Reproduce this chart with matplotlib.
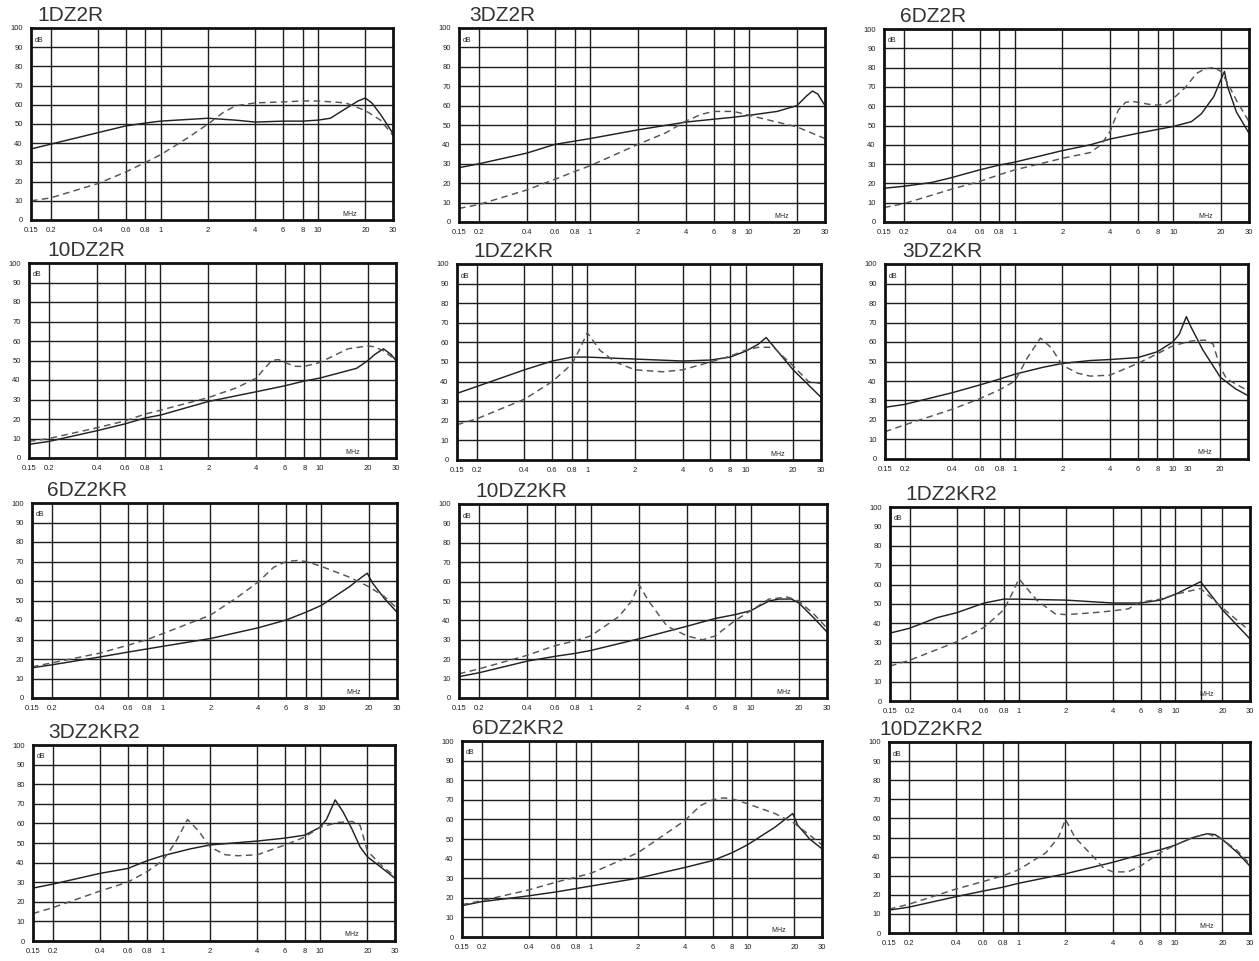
#!/usr/bin/env python3
"""Insertion-loss curves of 12 filter types (dB vs MHz, log x), 4x3 grid."""
import matplotlib

matplotlib.use("Agg")
import matplotlib.pyplot as plt

plt.rcParams["font.family"] = ["Liberation Sans", "DejaVu Sans"]

TITLES = ["1DZ2R", "3DZ2R", "6DZ2R", "10DZ2R", "1DZ2KR", "3DZ2KR",
          "6DZ2KR", "10DZ2KR", "1DZ2KR2", "3DZ2KR2", "6DZ2KR2", "10DZ2KR2"]

Y_TICKS = [0, 10, 20, 30, 40, 50, 60, 70, 80, 90, 100]
X_TICKS = [0.15, 0.2, 0.4, 0.6, 0.8, 1, 2, 4, 6, 8, 10, 20, 30]
X_LABELS = ["0.15", "0.2", "0.4", "0.6", "0.8", "1", "2", "4", "6", "8", "10", "20", "30"]
X_GRID = [0.2, 0.4, 0.6, 0.8, 1, 2, 4, 6, 8, 10, 20]
# 3DZ2KR has a misprinted axis in the original ("10 30 20", nothing at the end)
X_TICKS_3KR = [0.15, 0.2, 0.4, 0.6, 0.8, 1, 2, 4, 6, 8, 10, 12.5, 20]
X_LABELS_3KR = ["0.15", "0.2", "0.4", "0.6", "0.8", "1", "2", "4", "6", "8", "10", "30", "20"]
EXTRA_GRID_1KR2 = [14.5]

# solid / dashed curve per panel; f in MHz, level in dB
p1_sf = [0.15, 0.2, 0.4, 0.6, 0.8, 1, 2, 3, 4, 6, 8, 10, 12, 15, 18, 20, 22, 25, 30]
p1_sy = [37, 39.5, 45.5, 49, 50.5, 51.5, 53, 52, 51, 51.5, 51.5, 52, 53, 58, 62, 63.5, 61, 55, 45]
p1_df = [0.15, 0.2, 0.4, 0.6, 0.8, 1, 1.5, 2, 2.5, 3, 4, 6, 8, 10, 15, 20, 25, 30]
p1_dy = [10, 11.5, 19, 25, 30, 34, 43, 50, 56, 59.5, 61, 61.5, 62, 62, 61, 57, 52, 44]

p2_sf = [0.15, 0.2, 0.4, 0.6, 1, 2, 4, 6, 8, 10, 15, 20, 23, 25, 27, 30]
p2_sy = [28, 30, 35.5, 40, 43, 47.5, 51.5, 53, 54, 55, 57, 60, 65, 67.5, 66, 60]
p2_df = [0.15, 0.2, 0.4, 0.6, 0.8, 1, 2, 3, 4, 5, 6, 8, 10, 15, 20, 30]
p2_dy = [7, 9, 16.5, 22, 26, 29, 40, 46, 52, 55.5, 57, 57, 55, 51.5, 49, 43]

p3_sf = [0.15, 0.2, 0.3, 0.4, 0.6, 0.8, 1, 2, 3, 4, 6, 8, 10, 13, 15, 18, 20, 21, 22, 25, 30]
p3_sy = [17.5, 18.5, 20.5, 23, 27, 29.5, 31, 37, 40, 43, 46, 48, 49.5, 52, 56, 65, 74, 78, 70, 57, 46]
p3_df = [0.15, 0.2, 0.4, 0.6, 0.8, 1, 2, 3, 3.5, 4, 4.5, 5, 5.5, 6, 7, 8, 9, 10, 12, 14, 16, 18, 20, 22, 25, 30]
p3_dy = [7.5, 9.5, 17, 21, 24.5, 27, 33, 36, 40, 47, 58, 62, 62.5, 62, 61, 60.5, 61.5, 64, 70, 77, 79.5, 80, 78, 72, 63, 52]

p4_sf = [0.15, 0.2, 0.4, 0.6, 0.8, 1, 2, 4, 6, 8, 10, 17, 20, 22, 25, 28, 30]
p4_sy = [7, 8.5, 14, 17.5, 20.5, 22, 29, 34, 37, 39.5, 41, 46, 50, 53, 56, 53, 50]
p4_df = [0.15, 0.2, 0.4, 0.6, 0.8, 1, 2, 3, 4, 4.5, 5, 5.5, 6, 7, 8, 10, 15, 20, 22, 25, 28, 30]
p4_dy = [8.5, 10, 15.5, 19, 22.5, 24.5, 31, 36, 41, 46, 50, 50.5, 49, 47, 47, 49, 56, 57.5, 57, 55, 52, 51]

p5_sf = [0.15, 0.2, 0.4, 0.6, 0.8, 1, 2, 4, 6, 8, 10, 12, 13.5, 20, 30]
p5_sy = [34, 37.5, 46, 50.5, 52.5, 52.5, 51.5, 50.5, 51, 52.5, 55.5, 59, 62.5, 46, 32]
p5_df = [0.15, 0.2, 0.4, 0.6, 0.8, 0.9, 1, 1.2, 1.5, 2, 3, 4, 6, 8, 10, 12, 15, 20, 25, 30]
p5_dy = [18, 21, 31, 40, 49, 57, 65, 56, 50, 46, 45, 46, 50, 53, 56, 57.5, 57.5, 48, 40, 39]

p6_sf = [0.15, 0.2, 0.4, 0.6, 0.8, 1, 1.5, 2, 3, 4, 6, 8, 10, 11, 12.2, 13, 15.5, 20, 25, 30]
p6_sy = [26.5, 28, 34, 38, 41, 43.5, 47, 49, 50.5, 51, 52, 55, 60, 64, 73, 68, 56, 42, 36, 32.5]
p6_df = [0.15, 0.2, 0.4, 0.6, 0.8, 1, 1.2, 1.45, 1.7, 2, 2.5, 3, 4, 6, 8, 10, 13, 16, 18, 20, 22, 30]
p6_dy = [14, 17.5, 25.5, 31, 35.5, 40, 52, 62, 57, 48, 44, 42.5, 43, 49, 54, 58, 60.5, 61, 59, 47, 41, 35]

p7_sf = [0.15, 0.2, 0.4, 0.6, 1, 2, 4, 6, 8, 10, 15, 18, 19.5, 21, 25, 30]
p7_sy = [15.5, 17, 21, 23.5, 26.5, 30.5, 36, 40, 44, 47.5, 57, 62, 64, 59, 51, 44]
p7_df = [0.15, 0.2, 0.4, 0.6, 0.8, 1, 2, 3, 4, 5, 6, 7, 8, 10, 15, 20, 25, 30]
p7_dy = [16, 18, 23, 27, 30, 33, 42.5, 52, 59.5, 67, 70, 70.5, 70, 67.5, 62, 57, 52, 46]

p8_sf = [0.15, 0.2, 0.4, 0.6, 0.8, 1, 2, 4, 6, 8, 10, 13, 15, 18, 20, 25, 30]
p8_sy = [11, 13, 19, 21.5, 23, 24.5, 30.5, 37, 41, 43, 45, 50, 51, 51, 49, 41, 34]
p8_df = [0.15, 0.2, 0.4, 0.6, 0.8, 1, 1.5, 1.8, 2, 2.3, 3, 4, 5, 6, 8, 10, 13, 17, 20, 25, 30]
p8_dy = [12.5, 15, 22, 27, 29.5, 32, 42, 50, 58.5, 50, 37, 32, 30, 32, 40, 45, 51, 52, 50, 43, 36]

p9_sf = [0.15, 0.2, 0.3, 0.4, 0.6, 0.8, 1, 2, 4, 6, 8, 10, 14.5, 20, 30]
p9_sy = [35, 37.5, 43, 45.5, 50.5, 52.5, 52.5, 52, 50.5, 50.5, 52, 55, 61.5, 47, 32]
p9_df = [0.15, 0.2, 0.4, 0.6, 0.8, 0.9, 1, 1.3, 1.7, 2, 3, 4, 5, 6, 8, 10, 14.5, 20, 30]
p9_dy = [18, 21, 30.5, 38, 47, 55, 63, 52, 45, 44.5, 45.5, 46.5, 47.5, 51, 52.5, 55, 58, 48, 36]

p10_sf = [0.15, 0.2, 0.4, 0.6, 0.8, 1, 1.5, 2, 4, 6, 8, 10, 11, 12.5, 14, 16, 18, 20, 25, 30]
p10_sy = [27, 29, 34.5, 37, 41, 43.5, 47, 49, 51, 52.5, 54, 58, 62, 72, 66, 57, 48, 43, 37, 32]
p10_df = [0.15, 0.2, 0.4, 0.6, 0.8, 1, 1.2, 1.44, 1.7, 2, 2.5, 3, 4, 6, 8, 10, 13, 16, 18, 20, 25, 30]
p10_dy = [14, 17, 25.5, 30, 35.5, 41, 50, 62, 56, 48, 44, 43.5, 44, 49, 53, 58, 60.5, 61, 59, 46, 38, 33]

p11_sf = [0.15, 0.2, 0.4, 0.6, 1, 2, 4, 6, 8, 10, 15, 19.5, 21, 25, 30]
p11_sy = [16, 18, 21, 23, 26, 30, 35.5, 39, 43, 47, 56, 63, 57, 50, 45]
p11_df = [0.15, 0.2, 0.4, 0.6, 0.8, 1, 2, 4, 5, 6, 7, 8, 10, 15, 20, 25, 30]
p11_dy = [16.5, 18.5, 24, 28, 30.5, 32.5, 43, 59.5, 67, 70, 71, 70.5, 68, 63, 58, 52, 47]

p12_sf = [0.15, 0.2, 0.4, 0.6, 0.8, 1, 2, 4, 6, 8, 10, 13, 16, 18, 20, 25, 30]
p12_sy = [12, 13.5, 19, 22, 24, 26, 31, 37, 41, 43.5, 46, 50, 52, 51.5, 49, 42, 35]
p12_df = [0.15, 0.2, 0.4, 0.6, 0.8, 1, 1.5, 1.8, 2, 2.3, 3, 3.5, 4, 5, 6, 8, 10, 13, 16, 20, 25, 30]
p12_dy = [12.5, 15, 23, 27, 30, 33, 42, 50, 59.5, 50, 40, 34, 32, 32, 35, 42, 46, 50, 52, 49, 43, 36]

SERIES = [
    (p1_sf, p1_sy, p1_df, p1_dy), (p2_sf, p2_sy, p2_df, p2_dy),
    (p3_sf, p3_sy, p3_df, p3_dy), (p4_sf, p4_sy, p4_df, p4_dy),
    (p5_sf, p5_sy, p5_df, p5_dy), (p6_sf, p6_sy, p6_df, p6_dy),
    (p7_sf, p7_sy, p7_df, p7_dy), (p8_sf, p8_sy, p8_df, p8_dy),
    (p9_sf, p9_sy, p9_df, p9_dy), (p10_sf, p10_sy, p10_df, p10_dy),
    (p11_sf, p11_sy, p11_df, p11_dy), (p12_sf, p12_sy, p12_df, p12_dy),
]

# panel boxes in pixels: left, top, right, bottom (the original is a scan, not a neat grid)
W, H = 1259, 961
BOXES = [
    (31, 28, 393, 220), (459, 28, 825, 222), (884, 29, 1249, 222),
    (29, 263, 396, 458), (457, 264, 821, 460), (885, 264, 1248, 459),
    (32, 503, 397, 698), (459, 504, 827, 698), (890, 507, 1250, 701),
    (33, 745, 395, 941), (462, 741, 822, 937), (889, 742, 1250, 933),
]
TITLE_DX = [6, 10, 16, 18, 16, 17, 15, 16, 15, 15, 10, -10]  # px from left edge

fig = plt.figure(figsize=(W / 100, H / 100), dpi=100)
INK = "#1e1e1e"

for i, (title, (sf, sy, df, dy), (l, t, r, b)) in enumerate(zip(TITLES, SERIES, BOXES)):
    ax = fig.add_axes([l / W, 1 - b / H, (r - l) / W, (b - t) / H])
    ax.set_xscale("log")
    ax.set_xlim(0.15, 30)
    ax.set_ylim(0, 100)

    grid = X_GRID + (EXTRA_GRID_1KR2 if title == "1DZ2KR2" else [])
    for g in grid:
        ax.axvline(g, color=INK, lw=1.0, zorder=1)
    for yv in Y_TICKS[1:-1]:
        ax.axhline(yv, color=INK, lw=1.0, zorder=1)

    ax.plot(sf, sy, color="#222222", lw=1.05, zorder=3)
    ax.plot(df, dy, color="#555555", lw=1.05, dashes=(4.5, 3), zorder=3)

    if title == "3DZ2KR":
        ticks, labels = X_TICKS_3KR, X_LABELS_3KR
    else:
        ticks, labels = X_TICKS, X_LABELS
    ax.minorticks_off()
    ax.set_xticks(ticks)
    ax.set_xticklabels(labels)
    ax.set_yticks(Y_TICKS)
    ax.tick_params(axis="both", length=0, labelsize=5.5, colors="#222222")
    ax.tick_params(axis="x", pad=5)
    ax.tick_params(axis="y", pad=6)
    for sp in ax.spines.values():
        sp.set_linewidth(2.0)
        sp.set_color("#111111")
        sp.set_zorder(4)

    ax.annotate("dB", xy=(0, 1), xycoords="axes fraction", xytext=(4, -12),
                textcoords="offset pixels", fontsize=5, va="center", ha="left",
                color="#222222")
    ax.annotate("MHz", xy=(1, 0), xycoords="axes fraction", xytext=(-43, 6),
                textcoords="offset pixels", fontsize=5, va="center", ha="center",
                color="#222222")
    ax.annotate(title, xy=(0, 1), xycoords="axes fraction",
                xytext=(TITLE_DX[i], 3), textcoords="offset pixels",
                fontsize=15, va="bottom", ha="left", color="#333333")

fig.savefig("out.png", dpi=100)
print("wrote out.png")
